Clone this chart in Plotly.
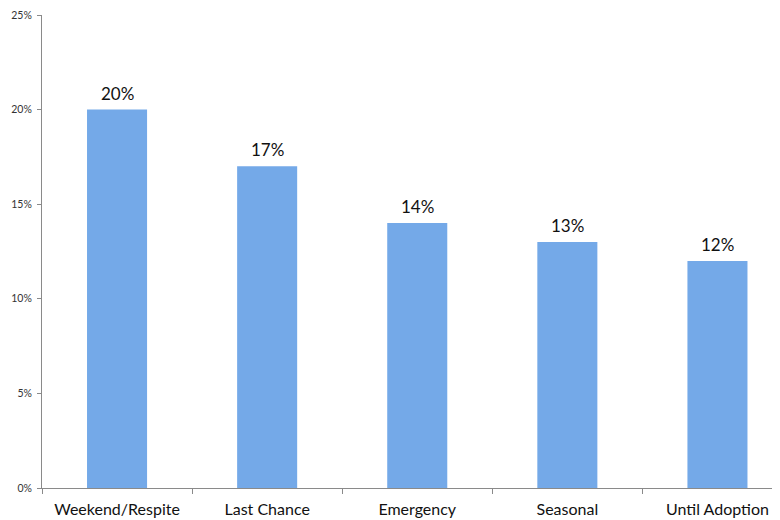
import plotly.graph_objects as go

categories = ["Weekend/Respite", "Last Chance", "Emergency", "Seasonal", "Until Adoption"]
values = [20, 17, 14, 13, 12]
labels = [f"{v}%" for v in values]

fig = go.Figure(go.Bar(
    x=categories,
    y=values,
    marker=dict(color="#74A9E8", line=dict(width=0)),
    hoverinfo="x+y",
))

for c, v, t in zip(categories, values, labels):
    fig.add_annotation(
        x=c, y=v, text=t, showarrow=False,
        yanchor="bottom", yshift=4,
        font=dict(family="Lato, Open Sans, sans-serif", size=17, color="#111"),
    )

# page body has an 8px default margin; margins compensate for it
fig.update_layout(
    width=780, height=520,
    margin=dict(l=34, r=0, t=7, b=40),
    paper_bgcolor="white", plot_bgcolor="white",
    bargap=0.6,
    showlegend=False,
    font=dict(family="Lato, Open Sans, sans-serif"),
)
fig.update_xaxes(
    range=[-0.5, 4.47], automargin=False,
    showline=True, linecolor="#8a8a8a", linewidth=1,
    ticks="outside", tickson="boundaries", ticklen=5, tickcolor="#8a8a8a",
    tickfont=dict(size=16, color="#111"), ticklabelstandoff=7,
    showgrid=False,
)
fig.update_yaxes(
    range=[0, 25], dtick=5, ticksuffix="%", automargin=False,
    showline=True, linecolor="#8a8a8a", linewidth=1,
    ticks="outside", ticklen=4, tickcolor="#8a8a8a",
    tickfont=dict(size=10.5, color="#333"), ticklabelstandoff=3,
    showgrid=False, zeroline=False,
)

fig.write_html("out.html")
